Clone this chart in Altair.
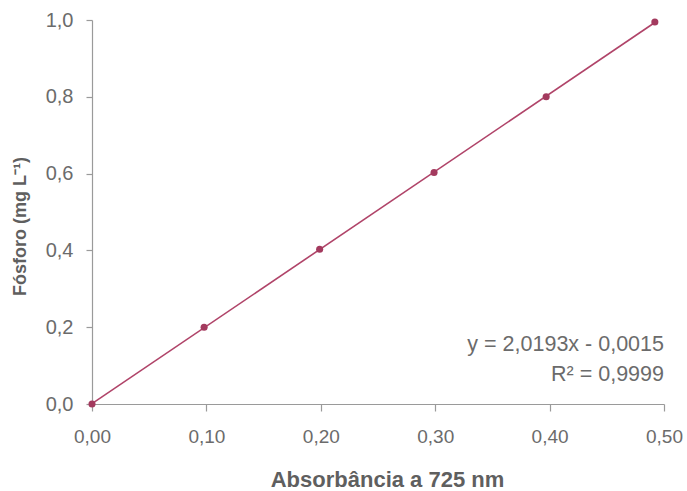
import altair as alt
import pandas as pd

absorbancia = [0.0, 0.098, 0.199, 0.299, 0.397, 0.492]
fosforo = [0.0, 0.200, 0.403, 0.603, 0.800, 0.995]
eq_lines = ["y = 2,0193x - 0,0015", "R² = 0,9999"]

df = pd.DataFrame({"x": absorbancia, "y": fosforo})

FONT = "Liberation Sans"
LINE_COLOR = "#b04469"
PT_COLOR = "#a33a5e"

xscale = alt.Scale(domain=[0, 0.5], nice=False, zero=True)
yscale = alt.Scale(domain=[0, 1.0], nice=False)

xaxis = alt.Axis(
    title="Absorbância a 725 nm",
    values=[0, 0.1, 0.2, 0.3, 0.4, 0.5],
    labelExpr="replace(format(datum.value, '.2f'), '.', ',')",
    grid=False, tickSize=7, labelPadding=16, titlePadding=23, labelFlush=False,
    labelFontSize=19, titleFontSize=22, titleX=295,
)
yaxis = alt.Axis(
    title="Fósforo (mg L⁻¹)",
    values=[0, 0.2, 0.4, 0.6, 0.8, 1.0],
    labelExpr="replace(format(datum.value, '.1f'), '.', ',')",
    grid=False, tickSize=6, labelPadding=13, labelFlush=False,
    labelFontSize=20, titleFontSize=18, titleX=-72, titleY=206, titleBaseline="middle",
)

base = alt.Chart(df)

line = base.transform_regression("x", "y", extent=[0, 0.492]).mark_line(
    color=LINE_COLOR, strokeWidth=1.6
).encode(
    x=alt.X("x:Q", scale=xscale, axis=xaxis),
    y=alt.Y("y:Q", scale=yscale, axis=yaxis),
)

points = base.mark_circle(color=PT_COLOR, size=50, opacity=1).encode(
    x=alt.X("x:Q", scale=xscale),
    y=alt.Y("y:Q", scale=yscale),
)

eq_df = pd.DataFrame({"t": eq_lines, "ex": [0.5, 0.5], "ey": [0.154, 0.076]})
eq = alt.Chart(eq_df).mark_text(
    align="right", baseline="middle", font=FONT, fontSize=21.5, color="#6b6b6b"
).encode(
    x=alt.X("ex:Q", scale=xscale),
    y=alt.Y("ey:Q", scale=yscale),
    text="t:N",
)

chart = alt.layer(line, points, eq).properties(
    width=572, height=384,
    background="white",
    autosize=alt.AutoSizeParams(type="none"),
    padding={"left": 92, "top": 20, "right": 23, "bottom": 87},
).configure_view(stroke=None).configure_axis(
    domainColor="#9a9a9a", tickColor="#9a9a9a", domainWidth=1.2, tickWidth=1.2,
    labelFont=FONT, labelColor="#6b6b6b",
    titleFont=FONT, titleFontWeight="bold", titleColor="#5f5f5f",
)

chart.save("out.html", embed_options={"renderer": "svg", "actions": False})
